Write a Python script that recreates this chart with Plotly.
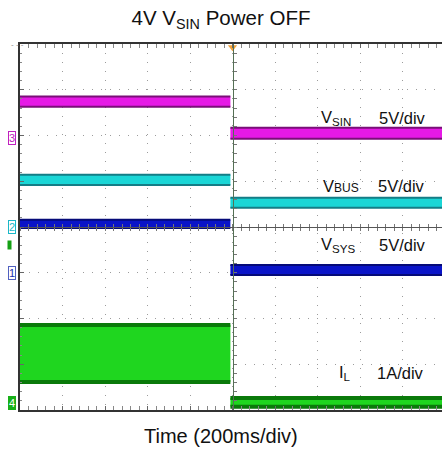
import plotly.graph_objects as go

# ---------------- data (read from the scope capture) ----------------
time_span_ms = [-1000, 1000]          # 10 div x 200 ms/div, trigger at 0
t_power_off_ms = -10

channel_names = ["V<sub>SIN</sub>", "V<span style='font-size:12px'>BUS</span>",
                 "V<sub>SYS</sub>", "I<sub>L</sub>"]
scale_labels = ["5V/div", "5V/div", "5V/div", "1A/div"]
units_per_div = [5, 5, 5, 1]
channel_numbers = ["3", "2", "1", "4"]

before_low = [3.4, 4.6, 4.9, 0.46]
before_high = [4.5, 5.7, 5.8, 1.71]
after_low = [-0.1, 2.1, -0.25, -0.08]
after_high = [1.1, 3.2, 0.85, 0.11]

# ---------------- style / positions ----------------
ref_div = [5.95, 4.0, 3.0, 0.15]       # ground marker position of each channel (div from bottom)
fill_colors = ["#e619e6", "#1ad6d6", "#0a14c8", "#1fd61f"]
edge_colors = ["#7a0f78", "#147d86", "#050a78", "#0a7a0a"]
edge_widths = [2, 2, 2, 4]
label_div = [6.38, 4.9, 3.61, 0.81]
name_x_ms = [405, 416, 407, 492]
scale_x_ms = [680, 676, 680, 671]

N_DIV_Y = 8
X_RIGHT = -1000 + 422 * 2000 / 425     # image is cropped just before the last grid line

FONT = "Arial, Liberation Sans, sans-serif"

fig = go.Figure()

for i in range(4):
    yax = "y%d" % (i + 2)
    segs = [(time_span_ms[0], t_power_off_ms, before_low[i], before_high[i]),
            (t_power_off_ms, time_span_ms[1], after_low[i], after_high[i])]
    for t0, t1, lo, hi in segs:
        fig.add_trace(go.Scatter(
            x=[t0, t1, t1, t0, t0], y=[hi, hi, lo, lo, hi],
            fill="toself", fillcolor=fill_colors[i], mode="lines",
            line=dict(width=0, color=fill_colors[i]), yaxis=yax,
            hoverinfo="skip", showlegend=False))
        for v in (hi, lo):
            fig.add_trace(go.Scatter(
                x=[t0, t1], y=[v, v], mode="lines",
                line=dict(width=edge_widths[i], color=edge_colors[i]),
                yaxis=yax, hoverinfo="skip", showlegend=False))

# empty traces so the centre-cross axes get drawn
for xa, ya in (("x2", "y"), ("x3", "y"), ("x", "y6")):
    fig.add_trace(go.Scatter(x=[None], y=[None], xaxis=xa, yaxis=ya, mode="lines",
                             hoverinfo="skip", showlegend=False))

# trigger marker
fig.add_trace(go.Scatter(x=[0], y=[7.93], mode="markers",
                         marker=dict(symbol="triangle-down", size=8, color="#f2a23a"),
                         cliponaxis=False, hoverinfo="skip", showlegend=False))

grid_common = dict(showgrid=True, gridcolor="#9c9c9c", griddash="1px,8px", gridwidth=1,
                   zeroline=False, showticklabels=False)

layout_axes = dict(
    xaxis=dict(range=[time_span_ms[0], X_RIGHT], tick0=-1000, dtick=200,
               showline=True, linecolor="#333", linewidth=1.5, mirror="allticks",
               ticks="inside", ticklen=4, tickcolor="#666", tickwidth=1,
               minor=dict(tick0=-1000, dtick=40, ticks="inside", ticklen=2.5,
                          tickcolor="#888", showgrid=False),
               **grid_common),
    yaxis=dict(range=[0, N_DIV_Y], tick0=0, dtick=1,
               showline=True, linecolor="#333", linewidth=1.5,
               ticks="inside", ticklen=4, tickcolor="#666",
               minor=dict(dtick=0.2, ticks="inside", ticklen=2.5,
                          tickcolor="#888", showgrid=False),
               **grid_common),
    xaxis2=dict(range=[time_span_ms[0], X_RIGHT], overlaying="x", anchor="free",
                position=0.5, showline=True, linecolor="#555", linewidth=1,
                ticks="outside", ticklen=3, tickcolor="#777", tick0=-1000, dtick=40,
                showgrid=False, zeroline=False, showticklabels=False),
    xaxis3=dict(range=[time_span_ms[0], X_RIGHT], overlaying="x", anchor="free",
                position=0.5, showline=False,
                ticks="inside", ticklen=3, tickcolor="#777", tick0=-1000, dtick=40,
                showgrid=False, zeroline=False, showticklabels=False),
    yaxis6=dict(range=[0, N_DIV_Y], overlaying="y", anchor="free",
                position=(0 - time_span_ms[0]) / (X_RIGHT - time_span_ms[0]),
                showline=True, linecolor="#557055", linewidth=1.2,
                ticks="inside", ticklen=3, tickcolor="#777", tick0=0, dtick=0.2,
                showgrid=False, zeroline=False, showticklabels=False),
)
for i in range(4):
    s = units_per_div[i]
    layout_axes["yaxis%d" % (i + 2)] = dict(
        range=[-ref_div[i] * s, (N_DIV_Y - ref_div[i]) * s],
        overlaying="y", visible=False, showgrid=False, zeroline=False)

annotations = []
for i in range(4):
    annotations.append(dict(x=name_x_ms[i], y=label_div[i], xref="x", yref="y",
                            text=channel_names[i], showarrow=False, xanchor="left",
                            font=dict(size=16.5, color="#111", family=FONT)))
    annotations.append(dict(x=scale_x_ms[i], y=label_div[i], xref="x", yref="y",
                            text=scale_labels[i], showarrow=False, xanchor="left",
                            font=dict(size=16.5, color="#111", family=FONT)))

marker_styles = [
    dict(font_color="#c020c0", border="#c020c0", bg="white"),
    dict(font_color="#1ab8c8", border="#1ab8c8", bg="white"),
    dict(font_color="#2030b0", border="#5060c0", bg="white"),
    dict(font_color="#ffffff", border="#18b018", bg="#18b018"),
]
for i in range(4):
    st = marker_styles[i]
    annotations.append(dict(x=-0.028, y=ref_div[i], xref="paper", yref="y",
                            text=channel_numbers[i], showarrow=False,
                            font=dict(size=11, color=st["font_color"], family=FONT),
                            bordercolor=st["border"], borderwidth=1, borderpad=0,
                            bgcolor=st["bg"]))
annotations.append(dict(x=-0.031, y=3.6, xref="paper", yref="y", text=" ",
                        showarrow=False, font=dict(size=5), bgcolor="#14a014"))
annotations.append(dict(x=-0.025, y=N_DIV_Y, xref="paper", yref="y", text="- - -",
                        showarrow=False, font=dict(size=8, color="#888", family=FONT)))

annotations.append(dict(x=(221 - 20) / 422, y=0, xref="paper", yref="paper",
                        yanchor="top", yshift=-13, text="Time (200ms/div)",
                        showarrow=False, font=dict(size=20, color="#111", family=FONT)))

fig.update_layout(
    width=442, height=451,
    margin=dict(l=20, r=0, t=44, b=41),
    paper_bgcolor="white", plot_bgcolor="white",
    title=dict(text="4V V<sub>SIN</sub> Power OFF", x=0.5, xref="container",
               y=1 - 18 / 451, yref="container", xanchor="center", yanchor="middle",
               font=dict(size=20.5, color="#111", family=FONT)),
    annotations=annotations,
    showlegend=False,
    **layout_axes,
)

fig.write_html("out.html")
